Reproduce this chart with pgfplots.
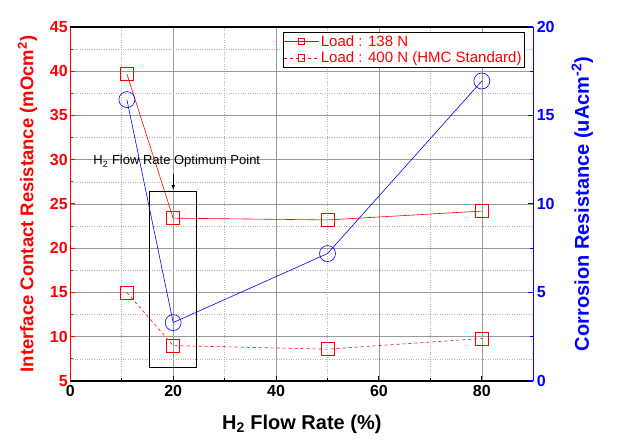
\documentclass[border=0pt]{standalone}
\usepackage{fontspec}
\setmainfont{Liberation Sans}
\usepackage{pgfplots}
\pgfplotsset{compat=1.18}
\definecolor{myred}{RGB}{255,0,0}
\definecolor{myblue}{RGB}{0,0,255}
\begin{document}
\begin{tikzpicture}
\useasboundingbox (-70.3pt,-66pt) rectangle (548.7pt,381pt);
\begin{axis}[at={(0,0)},anchor=south west, scale only axis, width=463pt, height=354pt,
 xmin=0,xmax=90, ymin=5,ymax=45,
 xtick={0,20,...,80}, minor xtick={10,30,50,70},
 ytick={5,10,...,45}, minor ytick={7.5,12.5,...,42.5},
 grid=both,
 major grid style={gray!80, line width=0.6pt},
 minor grid style={gray!60, dotted, line width=0.7pt},
 axis x line*=bottom, axis y line*=left,
 tick align=inside,
 major tick length=5pt, minor tick length=3pt,
 x axis line style={black, line width=1.4pt},
 y axis line style={myred, line width=1.4pt},
 xtick style={black, line width=1pt},
 ytick style={myred, line width=1pt},
 /pgf/number format/assume math mode=true,
 x tick label style={font=\bfseries\fontsize{16}{18}\selectfont, black, yshift=-1pt},
 y tick label style={font=\bfseries\fontsize{16}{18}\selectfont, myred, xshift=1pt},
 xlabel={\bfseries\fontsize{20}{24}\selectfont H\textsubscript{2} Flow Rate (\%)},
 ylabel={\bfseries\fontsize{18.5}{22}\selectfont Interface Contact Resistance (mOcm\textsuperscript{2})},
 ylabel style={myred, yshift=6pt},
 xlabel style={yshift=-11pt},
 legend style={at={(0.982,0.986)}, anchor=north east, draw=black, line width=0.8pt,
   font=\fontsize{15}{17}\selectfont, text=myred, inner sep=1pt, row sep=0pt},
 legend cell align=left,
 legend image code/.code={\draw[mark repeat=2,mark phase=2, line width=0.6pt, mark size=3.2pt] plot coordinates {(0cm,0cm) (0.6cm,0cm) (1.2cm,0cm)};},
 clip=false,
]
\addplot[myred, line width=0.6pt, mark=square, mark size=6.5pt, mark options={solid, fill=white}]
 coordinates {(11,39.7) (20,23.4) (50,23.2) (80,24.2)};
\addlegendentry{Load : 138 N}
\addplot[myred, dashed, line width=0.6pt, mark=square, mark size=6.5pt, mark options={solid, fill=white}]
 coordinates {(11,15.0) (20,9.0) (50,8.6) (80,9.8)};
\addlegendentry{Load : 400 N (HMC Standard)}
\draw[black, line width=0.8pt] (axis cs:15.3,6.5) rectangle (axis cs:24.6,26.4);
\draw[-latex, black, line width=0.6pt] (axis cs:20,28.4) -- (axis cs:20,26.6);
\node[font=\fontsize{13}{15}\selectfont, black] at (axis cs:20.7,29.8) {H\textsubscript{2} Flow Rate Optimum Point};
\draw[black, line width=1.4pt] (rel axis cs:0,1) -- (rel axis cs:1,1);
\end{axis}
\begin{axis}[at={(0,0)},anchor=south west, scale only axis, width=463pt, height=354pt,
 xmin=0,xmax=90, ymin=0,ymax=20,
 axis x line=none, axis y line*=right,
 ytick={0,5,...,20}, minor ytick={2.5,7.5,...,17.5},
 tick align=inside,
 major tick length=5pt, minor tick length=3pt,
 y axis line style={myblue, line width=1.4pt},
 ytick style={myblue, line width=1pt},
 /pgf/number format/assume math mode=true,
 y tick label style={font=\bfseries\fontsize{16}{18}\selectfont, myblue},
 ylabel={\bfseries\fontsize{20}{24}\selectfont Corrosion Resistance (uAcm\textsuperscript{-2})},
 ylabel style={myblue, yshift=-10pt},
 clip=false,
]
\addplot[myblue, line width=0.6pt, mark=o, mark size=8pt, mark options={fill=white}]
 coordinates {(11,15.9) (20,3.3) (50,7.2) (80,16.95)};
\end{axis}
\end{tikzpicture}
\end{document}
